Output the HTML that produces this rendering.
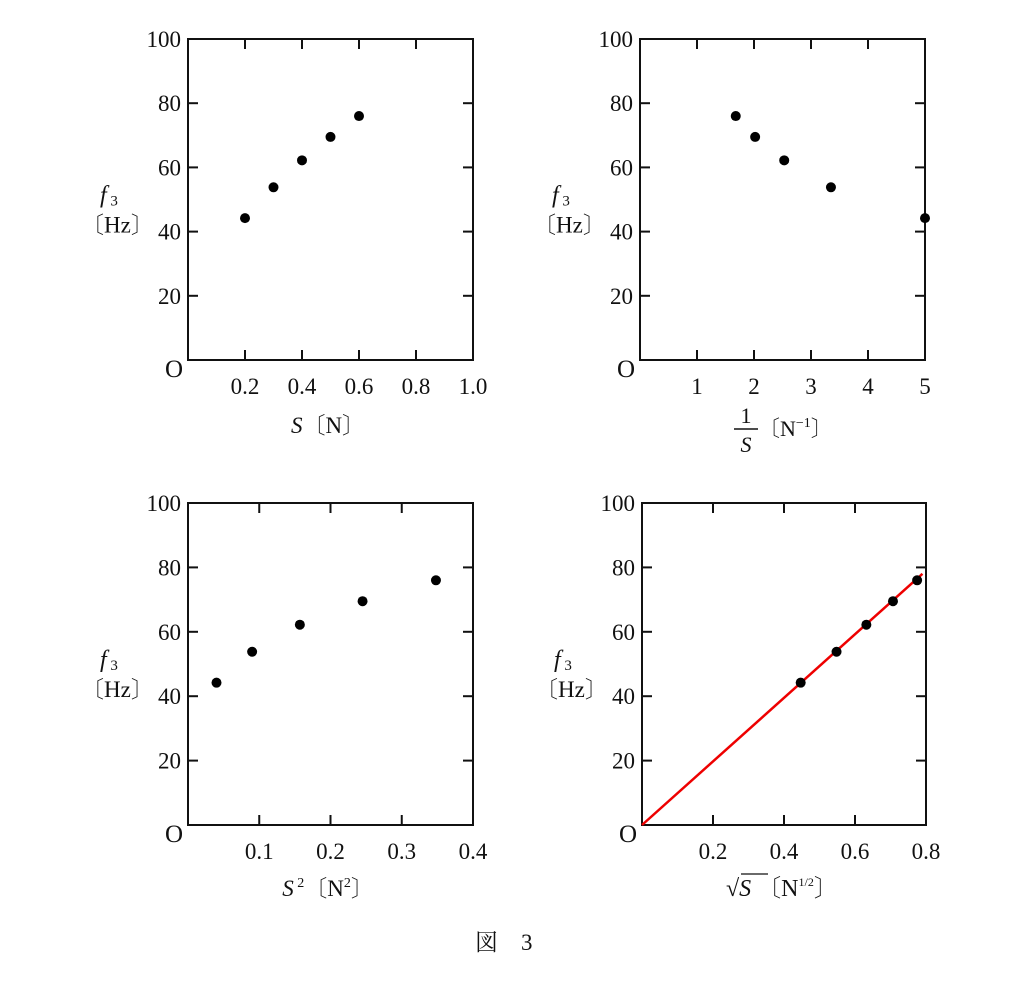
<!DOCTYPE html>
<html><head><meta charset="utf-8"><style>
body{margin:0;background:#fff;}
svg text{font-family:"Liberation Serif","Noto Serif CJK SC",serif;fill:#111;}
</style></head><body>
<svg id="fig" width="1024" height="979" viewBox="0 0 1024 979" xmlns="http://www.w3.org/2000/svg">
<text x="475" y="950" font-size="23">図　3</text>
</svg>
<script>
const sValues=[0.2,0.3,0.4,0.5,0.6];
const fValues=[44.2,53.8,62.2,69.5,76];
const invSValues=[5,3.35,2.53,2.02,1.68];
const s2Values=[0.04,0.09,0.157,0.245,0.348];
const sqrtSValues=[0.447,0.548,0.632,0.707,0.775];
const fitLine=[[0,0],[0.79,78]];
const yTicks=[20,40,60,80,100];
const xTicksTL=[0.2,0.4,0.6,0.8,1.0];
const xTicksTR=[1,2,3,4,5];
const xTicksBL=[0.1,0.2,0.3,0.4];
const xTicksBR=[0.2,0.4,0.6,0.8];
const svg=document.getElementById('fig');
const NS='http://www.w3.org/2000/svg';
function mk(tag,attrs,name,parent){const e=document.createElementNS(NS,tag);for(const k in attrs)e.setAttribute(k,attrs[k]);


(parent||svg).appendChild(e);return e;}
function panel(id,L,R,T,B,xmax,xt,fmt,xs,ys,line){
 const g=mk('g',{},id+'-panel');
 const sx=v=>L+(R-L)*v/xmax, sy=v=>B-(B-T)*v/100;
 mk('rect',{x:L,y:T,width:R-L,height:B-T,fill:'none',stroke:'#111','stroke-width':2},id+'-frame',g);
 yTicks.forEach(t=>{const y=sy(t);
  if(t<100){mk('line',{x1:L,x2:L+10,y1:y,y2:y,stroke:'#111','stroke-width':2},id+'-ytick',g);
  mk('line',{x1:R-10,x2:R,y1:y,y2:y,stroke:'#111','stroke-width':2},id+'-ytick-right',g);}
  const tx=mk('text',{x:L-7,y:y+8,'font-size':23,'text-anchor':'end'},id+'-ytick-label',g);tx.textContent=t;});
 xt.forEach(t=>{const x=sx(t);
  if(t<xmax){mk('line',{x1:x,x2:x,y1:B,y2:B-10,stroke:'#111','stroke-width':2},id+'-xtick',g);
  mk('line',{x1:x,x2:x,y1:T,y2:T+10,stroke:'#111','stroke-width':2},id+'-xtick-top',g);}
  const tx=mk('text',{x:x,y:B+34,'font-size':23,'text-anchor':'middle'},id+'-xtick-label',g);tx.textContent=fmt(t);});
 const o=mk('text',{x:L-23,y:B+17,'font-size':25},id+'-origin',g);o.textContent='O';
 const f=mk('text',{x:L-88,y:(T+B)/2+3,'font-size':24,'font-style':'italic'},id+'-y-title',g);f.innerHTML='f<tspan font-size="15" font-style="normal" dy="3"> 3</tspan>';
 const hz=mk('text',{x:L-107,y:(T+B)/2+33,'font-size':23},id+'-y-unit',g);hz.textContent='〔Hz〕';
 if(line){mk('line',{x1:sx(line[0][0]),y1:sy(line[0][1]),x2:sx(line[1][0]),y2:sy(line[1][1]),stroke:'#e00','stroke-width':2.5},id+'-fit-line',g);}
 xs.forEach((v,i)=>mk('circle',{cx:sx(v),cy:sy(ys[i]),r:5,fill:'#000'},id+'-point',g));
 return g;
}
const g1=panel('tl',188,473,39,360,1.0,xTicksTL,t=>t.toFixed(1),sValues,fValues);
let t=mk('text',{x:328,y:433,'font-size':23,'text-anchor':'middle'},'tl-x-title',g1);t.innerHTML='<tspan font-style="italic">S</tspan>〔N〕';
const g2=panel('tr',640,925,39,360,5,xTicksTR,t=>String(t),invSValues,fValues);
t=mk('text',{x:746,y:423,'font-size':22,'text-anchor':'middle'},'tr-x-num',g2);t.textContent='1';
mk('line',{x1:734,x2:758,y1:429,y2:429,stroke:'#111','stroke-width':1.5},'tr-x-fracbar',g2);
t=mk('text',{x:746,y:452,'font-size':22,'text-anchor':'middle','font-style':'italic'},'tr-x-den',g2);t.textContent='S';
t=mk('text',{x:758,y:436,'font-size':22},'tr-x-unit',g2);t.innerHTML='〔N<tspan font-size="14" dy="-9">−1</tspan><tspan dy="9">〕</tspan>';
const g3=panel('bl',188,473,503,825,0.4,xTicksBL,t=>t.toFixed(1),s2Values,fValues);
t=mk('text',{x:328,y:896,'font-size':23,'text-anchor':'middle'},'bl-x-title',g3);t.innerHTML='<tspan font-style="italic">S</tspan><tspan font-size="14" dy="-9"> 2</tspan><tspan dy="9">〔N</tspan><tspan font-size="14" dy="-9">2</tspan><tspan dy="9">〕</tspan>';
const g4=panel('br',642,926,503,825,0.8,xTicksBR,t=>t.toFixed(1),sqrtSValues,fValues,fitLine);
t=mk('text',{x:726,y:896,'font-size':24},'br-x-title',g4);t.innerHTML='√<tspan font-style="italic">S</tspan> 〔N<tspan font-size="12" dy="-10">1/2</tspan><tspan dy="10">〕</tspan>';
mk('line',{x1:741,x2:768,y1:874,y2:874,stroke:'#111','stroke-width':1.3},'br-sqrt-bar',g4);
</script>
</body></html>
